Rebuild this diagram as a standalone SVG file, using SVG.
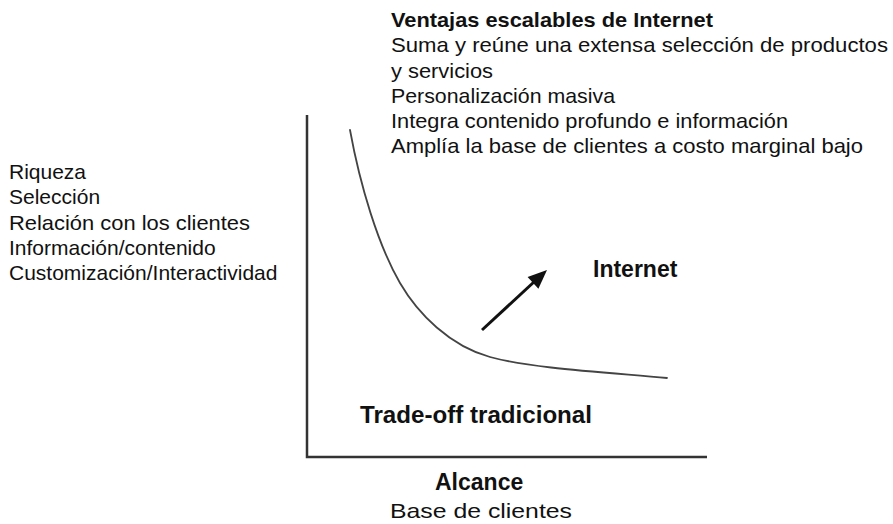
<svg xmlns="http://www.w3.org/2000/svg" width="893" height="524" viewBox="0 0 893 524">
<style>
text{font-family:"Liberation Sans",Arial,sans-serif;fill:#111}
.b{font-size:21px}
.bold{font-weight:bold}
.axis{stroke:#333;stroke-width:2.5;fill:none}
.curve{stroke:#444;stroke-width:1.8;fill:none;stroke-linecap:round}
</style>
<rect width="893" height="524" fill="#fff"/>
<g id="axes">
<path class="axis" d="M307,115 L307,457 L707,457"/>
</g>
<g id="curve">
<path class="curve" d="M350,130 C360,185 378,245 400,283 C418,314 450,346 490,357 C530,368 600,372 667,378"/>
</g>
<g id="connectors">
<path d="M482,330 L535,281" stroke="#111" stroke-width="3" fill="none"/>
<polygon points="547,270 538.4,288.8 527.6,277" fill="#111"/>
</g>
<g id="ventajas">
<text class="b bold" x="391" y="27" textLength="322" lengthAdjust="spacingAndGlyphs">Ventajas escalables de Internet</text>
<text class="b" x="391" y="52" textLength="497" lengthAdjust="spacingAndGlyphs">Suma y reúne una extensa selección de productos</text>
<text class="b" x="391" y="78" textLength="102" lengthAdjust="spacingAndGlyphs">y servicios</text>
<text class="b" x="391" y="103" textLength="224" lengthAdjust="spacingAndGlyphs">Personalización masiva</text>
<text class="b" x="391" y="128" textLength="397" lengthAdjust="spacingAndGlyphs">Integra contenido profundo e información</text>
<text class="b" x="391" y="153" textLength="472" lengthAdjust="spacingAndGlyphs">Amplía la base de clientes a costo marginal bajo</text>
</g>
<g id="riqueza">
<text class="b" x="9" y="179">Riqueza</text>
<text class="b" x="9" y="204">Selección</text>
<text class="b" x="9" y="230" textLength="241" lengthAdjust="spacingAndGlyphs">Relación con los clientes</text>
<text class="b" x="9" y="255">Información/contenido</text>
<text class="b" x="9" y="280">Customización/Interactividad</text>
</g>
<g id="internet">
<text class="bold" font-size="23" x="593" y="277">Internet</text>
</g>
<g id="tradeoff">
<text class="bold" font-size="23" x="360" y="423" textLength="232" lengthAdjust="spacingAndGlyphs">Trade-off tradicional</text>
</g>
<g id="alcance">
<text class="bold" font-size="23" x="435" y="490">Alcance</text>
<text class="b" x="390" y="518" textLength="182" lengthAdjust="spacingAndGlyphs">Base de clientes</text>
</g>
</svg>
